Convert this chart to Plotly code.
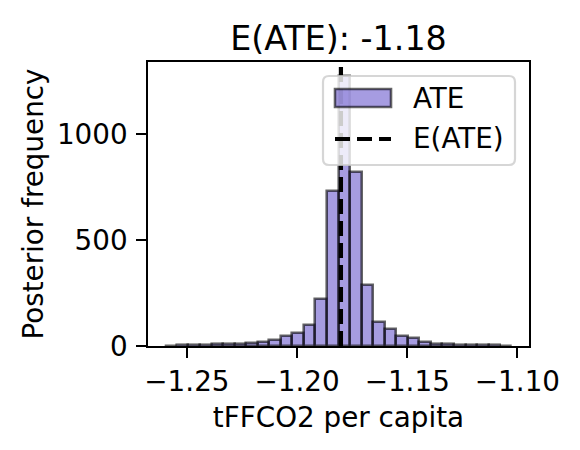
import numpy as np
import plotly.graph_objects as go

# posterior draws of the ATE, binned into 30 equal bins
bin_lo = -1.2598
bin_hi = -1.1026
counts = [2, 3, 4, 6, 8, 11, 11, 15, 19, 27, 47, 62, 98, 222, 732, 1278,
          820, 286, 112, 78, 46, 36, 20, 11, 11, 5, 4, 3, 3, 2]
mean_ate = -1.1801

x_ticks = [-1.25, -1.20, -1.15, -1.10]
y_ticks = [0, 500, 1000]

#%% derived bins / ranges (matplotlib-like 5% x margin, 5% top margin)
n_bins = len(counts)
edges = np.linspace(bin_lo, bin_hi, n_bins + 1)
bw = edges[1] - edges[0]
centers = edges[:-1] + bw / 2
pad = 0.05 * (bin_hi - bin_lo)
x_range = [bin_lo - pad, bin_hi + pad]
y_range = [0, max(counts) * 1.05]

# page body adds 8px, so work in screen pixels and shift back
OFF = 8
W, H = 580, 450
L, T = 148 - OFF, 62 - OFF
R, B = W - (529 - OFF), H - (346 - OFF)
pw, ph = W - L - R, H - T - B


def px(x, y):
    # screen pixel -> paper coords
    return (x - OFF - L) / pw, (H - B - (y - OFF)) / ph


FONT = "DejaVu Sans"
FS = 27.8          # 10pt @ 200dpi
fill = "rgba(106,90,205,0.6)"   # slateblue, alpha .6
edge = "rgba(0,0,0,0.6)"

fig = go.Figure()
fig.add_trace(go.Bar(x=centers, y=counts, width=bw,
                     marker=dict(color=fill, line=dict(color=edge, width=2.6)),
                     showlegend=False, hoverinfo="x+y"))

# mean line
fig.add_shape(type="line", x0=mean_ate, x1=mean_ate, y0=0, y1=1,
              xref="x", yref="paper", layer="above",
              line=dict(color="black", width=4.2, dash="15px,7px"))

#%% hand-made legend (matplotlib style)
def rrect(x0, y0, x1, y1, r):
    def p(a, b):
        u, v = px(a, b)
        return f"{u},{v}"
    return " ".join([
        "M", p(x0 + r, y0), "L", p(x1 - r, y0), "Q", p(x1, y0), p(x1, y0 + r),
        "L", p(x1, y1 - r), "Q", p(x1, y1), p(x1 - r, y1),
        "L", p(x0 + r, y1), "Q", p(x0, y1), p(x0, y1 - r),
        "L", p(x0, y0 + r), "Q", p(x0, y0), p(x0 + r, y0), "Z"])

fig.add_shape(type="path", path=rrect(323, 76, 515, 165, 6), xref="paper", yref="paper",
              layer="above", fillcolor="rgba(255,255,255,0.8)",
              line=dict(color="rgba(204,204,204,0.8)", width=2.2))
x0, y0 = px(335, 89)
x1, y1 = px(391, 107)
fig.add_shape(type="rect", x0=x0, y0=y0, x1=x1, y1=y1, xref="paper", yref="paper",
              layer="above", fillcolor=fill, line=dict(color=edge, width=2.6))
x0, yl = px(335, 139)
x1, _ = px(391, 139)
fig.add_shape(type="line", x0=x0, x1=x1, y0=yl, y1=yl, xref="paper", yref="paper",
              layer="above", line=dict(color="black", width=4.2, dash="15px,7px"))
for lbl, yy in [("ATE", 98), ("E(ATE)", 138)]:
    ax_, ay_ = px(411, yy)
    fig.add_annotation(text=lbl, x=ax_, y=ay_, xref="paper", yref="paper",
                       xanchor="left", yanchor="middle", showarrow=False,
                       font=dict(family=FONT, size=FS, color="black"))

axis_common = dict(showline=True, linecolor="black", linewidth=2.2, mirror=True,
                   ticks="outside", ticklen=9.7, tickwidth=2.2, tickcolor="black",
                   showgrid=False, zeroline=False,
                   tickfont=dict(family=FONT, size=FS, color="black"))

fig.update_layout(
    width=W, height=H,
    margin=dict(l=L, r=R, t=T, b=B),
    plot_bgcolor="white", paper_bgcolor="white",
    bargap=0,
    font=dict(family=FONT, color="black"),
    title=dict(text=f"E(ATE): {mean_ate:.2f}", x=px(338.5, 0)[0], xref="paper",
               xanchor="center", y=1 - (38 - OFF) / H, yref="container", yanchor="middle",
               font=dict(family=FONT, size=33.3, color="black")),
    xaxis=dict(range=x_range, tickvals=x_ticks,
               ticktext=[f"{v:.2f}".replace("-", "\u2212") for v in x_ticks],
               title=dict(text="tFFCO2 per capita", standoff=10,
                          font=dict(family=FONT, size=FS, color="black")),
               **axis_common),
    yaxis=dict(range=y_range, tickvals=y_ticks, ticklabelstandoff=3,
               title=dict(text="Posterior frequency", standoff=5,
                          font=dict(family=FONT, size=FS, color="black")),
               **axis_common),
)

fig.write_html("out.html")
